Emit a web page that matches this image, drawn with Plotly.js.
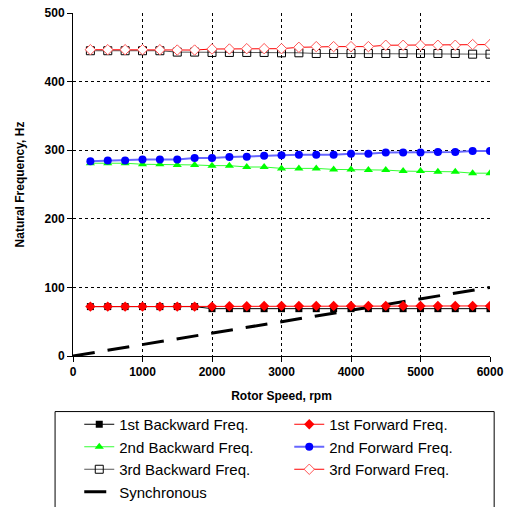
<!DOCTYPE html>
<html>
<head>
<meta charset="utf-8">
<script src="https://cdn.plot.ly/plotly-3.0.1.min.js"></script>
<style>html,body{margin:0;padding:0;background:#fff;}#chart{width:518px;height:507px;}</style>
</head>
<body>
<div id="chart"></div>
<script>
var rpm = [250,500,750,1000,1250,1500,1750,2000,2250,2500,2750,3000,3250,3500,3750,4000,4250,4500,4750,5000,5250,5500,5750,6000];
var firstBackward = [72,72,72,72,72,72,72,69,69,69,69,69,69,69,69,69,69,69,69,69,69,69,69,69];
var firstForward  = [72,72,72,72,72,72,72,72,72.5,72.5,73,73,73,73,73,73,73,73,73,73,73,73,73,73];
var secondBackward = [281,281,281,279.5,279.5,278.5,278.5,277.5,277.5,275.5,275.5,273.5,273.5,273.5,272,272,271,271,269.5,269.5,268.5,268.5,266.5,266.5];
var secondForward  = [284,285,285,286.5,286.5,286.5,288.5,288.5,290,290.5,292,292.5,293.5,293.5,293.5,295,295,296.5,296.5,296.5,297.5,297.5,299,299];
var thirdBackward = [445,445,445,445,445,443,443,442.5,442.5,442.5,442.5,442,442,441,441,441,441,441,441,441,441,441,440,440];
var thirdForward  = [446.5,446.5,446.5,446.5,446.5,446,446,447.5,447.5,448,448,448,450,451,451,451,451,453,453,453,453,453,454,454];
var syncRpm = [0,6000];
var syncFreq = [0,100];

var traces = [
  {x: syncRpm, y: syncFreq, name: 'Synchronous', mode: 'lines', legendrank: 7,
   line: {color: '#000', width: 3, dash: '22px,13px'}},
  {x: rpm, y: firstBackward, name: '1st Backward Freq.', mode: 'lines+markers', legendrank: 1,
   line: {color: '#000', width: 1}, marker: {symbol: 'square', size: 7, color: '#000'}},
  {x: rpm, y: firstForward, name: '1st Forward Freq.', mode: 'lines+markers', legendrank: 2,
   line: {color: '#ff0000', width: 1}, marker: {symbol: 'diamond', size: 8, color: '#ff0000'}},
  {x: rpm, y: secondBackward, name: '2nd Backward Freq.', mode: 'lines+markers', legendrank: 3,
   line: {color: '#33ff33', width: 1}, marker: {symbol: 'triangle-up', size: 8, color: '#00ff00'}},
  {x: rpm, y: secondForward, name: '2nd Forward Freq.', mode: 'lines+markers', legendrank: 4,
   line: {color: '#6666ff', width: 2}, marker: {symbol: 'circle', size: 8, color: '#0000ff'}},
  {x: rpm, y: thirdBackward, name: '3rd Backward Freq.', mode: 'lines+markers', legendrank: 5,
   line: {color: '#555', width: 1}, marker: {symbol: 'square-open', size: 8, color: '#000', line: {width: 1}}},
  {x: rpm, y: thirdForward, name: '3rd Forward Freq.', mode: 'lines+markers', legendrank: 6,
   line: {color: '#ff0000', width: 1}, marker: {symbol: 'diamond', size: 8, color: '#fff', line: {color: '#ff5555', width: 1}}}
];

var layout = {
  width: 518, height: 507,
  margin: {l: 73, r: 28, t: 13, b: 151},
  paper_bgcolor: '#fff', plot_bgcolor: '#fff',
  font: {family: 'Liberation Sans, Arial, sans-serif', color: '#000', size: 12},
  xaxis: {
    range: [0, 6000], dtick: 1000, tick0: 0,
    showline: true, linecolor: '#000', linewidth: 1,
    ticks: 'outside', ticklen: 5, tickcolor: '#000',
    showgrid: true, gridcolor: '#000', griddash: 'dot', gridwidth: 1,
    zeroline: false,
    tickfont: {size: 12, weight: 'bold'},
    title: {text: 'Rotor Speed, rpm', font: {size: 12, weight: 'bold'}, standoff: 13}
  },
  yaxis: {
    range: [0, 500], dtick: 100, tick0: 0,
    showline: true, linecolor: '#000', linewidth: 1,
    ticks: 'outside', ticklen: 5, tickcolor: '#000',
    showgrid: true, gridcolor: '#000', griddash: 'dot', gridwidth: 1,
    zeroline: false,
    tickfont: {size: 12, weight: 'bold'},
    title: {text: 'Natural Frequency, Hz', font: {size: 12, weight: 'bold'}, standoff: 17}
  },
  shapes: [
    {type: 'rect', xref: 'paper', yref: 'paper', x0: -0.043, x1: 1.01, y0: -0.162, y1: -0.46,
     line: {color: '#000', width: 1}, fillcolor: 'rgba(0,0,0,0)', layer: 'above'}
  ],
  showlegend: true,
  legend: {
    orientation: 'h',
    x: 0.015, xanchor: 'left',
    yref: 'container',
    y: 1 - 408 / 507, yanchor: 'top',
    entrywidth: 165, entrywidthmode: 'pixels',
    borderwidth: 0, bgcolor: 'rgba(0,0,0,0)',
    font: {size: 15},
    tracegroupgap: 0
  }
};

Plotly.newPlot('chart', traces, layout, {displayModeBar: false, staticPlot: true});
</script>
</body>
</html>
